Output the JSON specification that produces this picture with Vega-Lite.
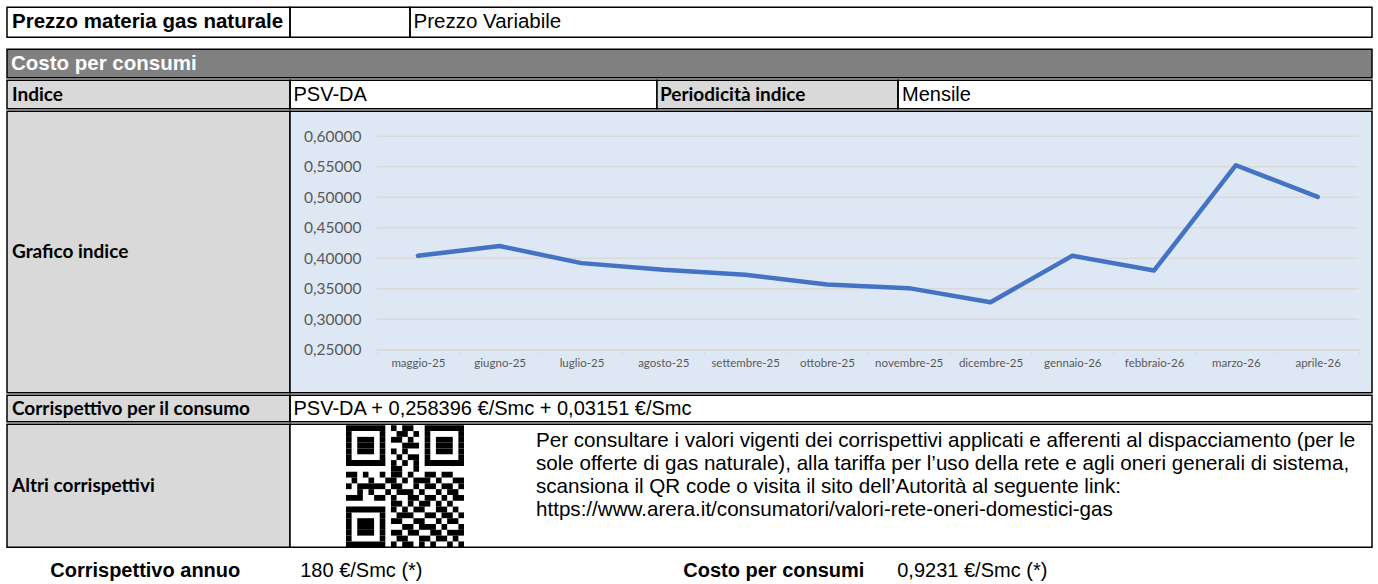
{
  "$schema": "https://vega.github.io/schema/vega-lite/v6.json",
  "background": "white",
  "padding": {"left": 6, "top": 6.25, "right": 0, "bottom": 0},
  "config": {
    "locale": {"number": {"decimal": ",", "thousands": ".", "grouping": [3], "currency": ["", " €"]}},
    "font": "Liberation Sans",
    "text": {"font": "Liberation Sans", "fontSize": 20, "color": "black"},
    "view": {"stroke": "black", "strokeWidth": 1.5}
  },
  "spacing": 0,
  "vconcat": [
    {
      "spacing": 0, "bounds": "flush",
      "hconcat": [
        {"width": 283, "height": 30, "view": {"stroke": "black", "strokeWidth": 1.5}, "data": {"values": [{"t": "Prezzo materia gas naturale"}]},
         "mark": {"type": "text", "align": "left", "baseline": "middle", "dx": 5, "fontWeight": "bold", "fontSize": 20.5},
         "encoding": {"text": {"field": "t"}, "x": {"datum": 0, "type": "quantitative", "scale": {"domain": [0, 1]}, "axis": null}}},
        {"width": 120, "height": 30, "view": {"stroke": "black", "strokeWidth": 1.5}, "data": {"values": []},
         "mark": {"type": "text"},
         "encoding": {"text": {"field": "t"}, "x": {"datum": 0, "type": "quantitative", "scale": {"domain": [0, 1]}, "axis": null}}},
        {"width": 962, "height": 30, "view": {"stroke": "black", "strokeWidth": 1.5}, "data": {"values": [{"t": "Prezzo Variabile"}]},
         "mark": {"type": "text", "align": "left", "baseline": "middle", "dx": 3.5, "fontSize": 20.5},
         "encoding": {"text": {"field": "t"}, "x": {"datum": 0, "type": "quantitative", "scale": {"domain": [0, 1]}, "axis": null}}}
      ]
    },
    {"width": 1365, "height": 9.5, "view": {"fill": "white", "stroke": null}, "data": {"values": []},
     "mark": {"type": "text"}, "encoding": {"text": {"field": "t"}}},
    {"width": 1365, "height": 28.5, "view": {"fill": "#808080", "stroke": "black", "strokeWidth": 1.5}, "data": {"values": [{"t": "Costo per consumi"}]},
     "mark": {"type": "text", "align": "left", "baseline": "middle", "dx": 4, "fontWeight": "bold", "fontSize": 20.5, "color": "white"},
     "encoding": {"text": {"field": "t"}, "x": {"datum": 0, "type": "quantitative", "scale": {"domain": [0, 1]}, "axis": null}}},
    {
      "spacing": 0, "bounds": "flush",
      "hconcat": [
        {"width": 283, "height": 28.5, "view": {"fill": "#d9d9d9", "stroke": "black", "strokeWidth": 1.5}, "data": {"values": [{"t": "Indice"}]},
         "mark": {"type": "text", "align": "left", "baseline": "middle", "dx": 5, "font": "Lato", "fontSize": 19, "fontWeight": "bold"},
         "encoding": {"text": {"field": "t"}, "x": {"datum": 0, "type": "quantitative", "scale": {"domain": [0, 1]}, "axis": null}}},
        {"width": 367, "height": 28.5, "view": {"stroke": "black", "strokeWidth": 1.5}, "data": {"values": [{"t": "PSV-DA"}]},
         "mark": {"type": "text", "align": "left", "baseline": "middle", "dx": 3.5},
         "encoding": {"text": {"field": "t"}, "x": {"datum": 0, "type": "quantitative", "scale": {"domain": [0, 1]}, "axis": null}}},
        {"width": 241, "height": 28.5, "view": {"fill": "#d9d9d9", "stroke": "black", "strokeWidth": 1.5}, "data": {"values": [{"t": "Periodicità indice"}]},
         "mark": {"type": "text", "align": "left", "baseline": "middle", "dx": 3, "font": "Lato", "fontSize": 19, "fontWeight": "bold"},
         "encoding": {"text": {"field": "t"}, "x": {"datum": 0, "type": "quantitative", "scale": {"domain": [0, 1]}, "axis": null}}},
        {"width": 474, "height": 28.5, "view": {"stroke": "black", "strokeWidth": 1.5}, "data": {"values": [{"t": "Mensile"}]},
         "mark": {"type": "text", "align": "left", "baseline": "middle", "dx": 4},
         "encoding": {"text": {"field": "t"}, "x": {"datum": 0, "type": "quantitative", "scale": {"domain": [0, 1]}, "axis": null}}}
      ]
    },
    {
      "spacing": 0, "bounds": "flush",
      "hconcat": [
        {"width": 283, "height": 281.5, "view": {"fill": "#d9d9d9", "stroke": "black", "strokeWidth": 1.5}, "data": {"values": [{"t": "Grafico indice"}]},
         "mark": {"type": "text", "align": "left", "baseline": "middle", "dx": 5, "font": "Lato", "fontSize": 19, "fontWeight": "bold"},
         "encoding": {"text": {"field": "t"}, "x": {"datum": 0, "type": "quantitative", "scale": {"domain": [0, 1]}, "axis": null}}},
        {
          "width": 1082, "height": 281.5,
          "view": {"fill": "#dee8f4", "stroke": "black", "strokeWidth": 1.5},
          "resolve": {"scale": {"x": "independent"}, "axis": {"x": "independent"}},
          "layer": [
            {
              "data": {"values": [{"g": 0.25}, {"g": 0.3}, {"g": 0.35}, {"g": 0.4}, {"g": 0.45}, {"g": 0.5}, {"g": 0.55}, {"g": 0.6}]},
              "mark": {"type": "rule", "color": "#d9d9d9", "strokeWidth": 1.3},
              "encoding": {
                "x": {"datum": 0, "type": "quantitative", "scale": {"domain": [0, 12], "range": [87, 1068.6], "nice": false, "zero": false}, "axis": null},
                "x2": {"datum": 12},
                "y": {"field": "g", "type": "quantitative",
                      "scale": {"domain": [0.25, 0.6], "range": [238.5, 25], "nice": false, "zero": false},
                      "axis": {"title": null, "values": [0.25, 0.3, 0.35, 0.4, 0.45, 0.5, 0.55, 0.6], "format": ".5f",
                               "offset": -87, "domain": false, "ticks": false, "tickSize": 0, "labelPadding": 16,
                               "labelFont": "Lato", "labelFontSize": 15.5, "labelColor": "#595959", "grid": false}}
              }
            },
            {
              "data": {"values": [
                {"mese": "maggio-25", "valore": 0.404},
                {"mese": "giugno-25", "valore": 0.420},
                {"mese": "luglio-25", "valore": 0.392},
                {"mese": "agosto-25", "valore": 0.381},
                {"mese": "settembre-25", "valore": 0.373},
                {"mese": "ottobre-25", "valore": 0.357},
                {"mese": "novembre-25", "valore": 0.351},
                {"mese": "dicembre-25", "valore": 0.328},
                {"mese": "gennaio-26", "valore": 0.404},
                {"mese": "febbraio-26", "valore": 0.380},
                {"mese": "marzo-26", "valore": 0.5525},
                {"mese": "aprile-26", "valore": 0.5005}
              ]},
              "mark": {"type": "line", "color": "#4472c4", "strokeWidth": 4.5, "strokeCap": "round", "strokeJoin": "round"},
              "encoding": {
                "x": {"field": "mese", "type": "ordinal", "sort": null, "bandPosition": 0.5,
                      "scale": {"type": "band", "range": [87, 1068.6], "paddingInner": 0, "paddingOuter": 0},
                      "axis": {"title": null, "orient": "bottom", "offset": -43, "domainColor": "#d9d9d9", "domainWidth": 1.3,
                               "ticks": true, "tickBand": "extent", "tickColor": "#d9d9d9", "tickSize": 4, "tickWidth": 1.3,
                               "labelAngle": 0, "labelFont": "Lato", "labelFontSize": 11.5, "labelColor": "#595959",
                               "labelPadding": 4, "labelOverlap": false, "grid": false}},
                "y": {"field": "valore", "type": "quantitative",
                      "scale": {"domain": [0.25, 0.6], "range": [238.5, 25], "nice": false, "zero": false},
                      "axis": {"title": null, "values": [0.25, 0.3, 0.35, 0.4, 0.45, 0.5, 0.55, 0.6], "format": ".5f",
                               "offset": -87, "domain": false, "ticks": false, "tickSize": 0, "labelPadding": 16,
                               "labelFont": "Lato", "labelFontSize": 15.5, "labelColor": "#595959", "grid": false}}
              }
            }
          ]
        }
      ]
    },
    {
      "spacing": 0, "bounds": "flush",
      "hconcat": [
        {"width": 283, "height": 26.5, "view": {"fill": "#d9d9d9", "stroke": "black", "strokeWidth": 1.5}, "data": {"values": [{"t": "Corrispettivo per il consumo"}]},
         "mark": {"type": "text", "align": "left", "baseline": "middle", "dx": 5, "font": "Lato", "fontSize": 19, "fontWeight": "bold"},
         "encoding": {"text": {"field": "t"}, "x": {"datum": 0, "type": "quantitative", "scale": {"domain": [0, 1]}, "axis": null}}},
        {"width": 1082, "height": 26.5, "view": {"stroke": "black", "strokeWidth": 1.5}, "data": {"values": [{"t": "PSV-DA + 0,258396 €/Smc + 0,03151 €/Smc"}]},
         "mark": {"type": "text", "align": "left", "baseline": "middle", "dx": 3.5},
         "encoding": {"text": {"field": "t"}, "x": {"datum": 0, "type": "quantitative", "scale": {"domain": [0, 1]}, "axis": null}}}
      ]
    },
    {
      "spacing": 0, "bounds": "flush",
      "hconcat": [
        {"width": 283, "height": 123, "view": {"fill": "#d9d9d9", "stroke": "black", "strokeWidth": 1.5}, "data": {"values": [{"t": "Altri corrispettivi"}]},
         "mark": {"type": "text", "align": "left", "baseline": "middle", "dx": 5, "font": "Lato", "fontSize": 19, "fontWeight": "bold"},
         "encoding": {"text": {"field": "t"}, "x": {"datum": 0, "type": "quantitative", "scale": {"domain": [0, 1]}, "axis": null}}},
        {
          "width": 1082, "height": 123,
          "view": {"fill": "white", "stroke": "black", "strokeWidth": 1.5},
          "layer": [
            {
              "data": {"values": [
                {"r": 0, "a": 0, "b": 7}, {"r": 0, "a": 8, "b": 9}, {"r": 0, "a": 10, "b": 12}, {"r": 0, "a": 14, "b": 21},
                {"r": 1, "a": 0, "b": 1}, {"r": 1, "a": 6, "b": 7}, {"r": 1, "a": 9, "b": 11}, {"r": 1, "a": 12, "b": 13}, {"r": 1, "a": 14, "b": 15}, {"r": 1, "a": 20, "b": 21},
                {"r": 2, "a": 0, "b": 1}, {"r": 2, "a": 2, "b": 5}, {"r": 2, "a": 6, "b": 7}, {"r": 2, "a": 8, "b": 10}, {"r": 2, "a": 11, "b": 12}, {"r": 2, "a": 14, "b": 15}, {"r": 2, "a": 16, "b": 19}, {"r": 2, "a": 20, "b": 21},
                {"r": 3, "a": 0, "b": 1}, {"r": 3, "a": 2, "b": 5}, {"r": 3, "a": 6, "b": 7}, {"r": 3, "a": 10, "b": 13}, {"r": 3, "a": 14, "b": 15}, {"r": 3, "a": 16, "b": 19}, {"r": 3, "a": 20, "b": 21},
                {"r": 4, "a": 0, "b": 1}, {"r": 4, "a": 2, "b": 5}, {"r": 4, "a": 6, "b": 7}, {"r": 4, "a": 8, "b": 9}, {"r": 4, "a": 10, "b": 11}, {"r": 4, "a": 14, "b": 15}, {"r": 4, "a": 16, "b": 19}, {"r": 4, "a": 20, "b": 21},
                {"r": 5, "a": 0, "b": 1}, {"r": 5, "a": 6, "b": 7}, {"r": 5, "a": 9, "b": 10}, {"r": 5, "a": 11, "b": 13}, {"r": 5, "a": 14, "b": 15}, {"r": 5, "a": 20, "b": 21},
                {"r": 6, "a": 0, "b": 7}, {"r": 6, "a": 8, "b": 9}, {"r": 6, "a": 10, "b": 11}, {"r": 6, "a": 12, "b": 13}, {"r": 6, "a": 14, "b": 21},
                {"r": 7, "a": 8, "b": 10}, {"r": 7, "a": 12, "b": 13},
                {"r": 8, "a": 0, "b": 2}, {"r": 8, "a": 3, "b": 4}, {"r": 8, "a": 6, "b": 7}, {"r": 8, "a": 8, "b": 10}, {"r": 8, "a": 11, "b": 12}, {"r": 8, "a": 14, "b": 16}, {"r": 8, "a": 17, "b": 19},
                {"r": 9, "a": 1, "b": 2}, {"r": 9, "a": 4, "b": 5}, {"r": 9, "a": 7, "b": 9}, {"r": 9, "a": 10, "b": 11}, {"r": 9, "a": 12, "b": 15}, {"r": 9, "a": 16, "b": 17}, {"r": 9, "a": 19, "b": 21},
                {"r": 10, "a": 0, "b": 1}, {"r": 10, "a": 2, "b": 7}, {"r": 10, "a": 8, "b": 10}, {"r": 10, "a": 12, "b": 13}, {"r": 10, "a": 14, "b": 16}, {"r": 10, "a": 17, "b": 19}, {"r": 10, "a": 20, "b": 21},
                {"r": 11, "a": 2, "b": 3}, {"r": 11, "a": 4, "b": 5}, {"r": 11, "a": 7, "b": 8}, {"r": 11, "a": 9, "b": 12}, {"r": 11, "a": 13, "b": 14}, {"r": 11, "a": 16, "b": 17}, {"r": 11, "a": 18, "b": 20},
                {"r": 12, "a": 0, "b": 3}, {"r": 12, "a": 5, "b": 7}, {"r": 12, "a": 8, "b": 9}, {"r": 12, "a": 11, "b": 13}, {"r": 12, "a": 14, "b": 16}, {"r": 12, "a": 17, "b": 18}, {"r": 12, "a": 19, "b": 21},
                {"r": 13, "a": 8, "b": 10}, {"r": 13, "a": 11, "b": 12}, {"r": 13, "a": 13, "b": 15}, {"r": 13, "a": 16, "b": 17}, {"r": 13, "a": 18, "b": 19},
                {"r": 14, "a": 0, "b": 7}, {"r": 14, "a": 8, "b": 9}, {"r": 14, "a": 10, "b": 11}, {"r": 14, "a": 12, "b": 14}, {"r": 14, "a": 16, "b": 18}, {"r": 14, "a": 19, "b": 20},
                {"r": 15, "a": 0, "b": 1}, {"r": 15, "a": 6, "b": 7}, {"r": 15, "a": 9, "b": 12}, {"r": 15, "a": 14, "b": 16}, {"r": 15, "a": 17, "b": 19}, {"r": 15, "a": 20, "b": 21},
                {"r": 16, "a": 0, "b": 1}, {"r": 16, "a": 2, "b": 5}, {"r": 16, "a": 6, "b": 7}, {"r": 16, "a": 8, "b": 10}, {"r": 16, "a": 12, "b": 14}, {"r": 16, "a": 16, "b": 17}, {"r": 16, "a": 18, "b": 20},
                {"r": 17, "a": 0, "b": 1}, {"r": 17, "a": 2, "b": 5}, {"r": 17, "a": 6, "b": 7}, {"r": 17, "a": 10, "b": 12}, {"r": 17, "a": 13, "b": 16}, {"r": 17, "a": 17, "b": 18}, {"r": 17, "a": 20, "b": 21},
                {"r": 18, "a": 0, "b": 1}, {"r": 18, "a": 2, "b": 5}, {"r": 18, "a": 6, "b": 7}, {"r": 18, "a": 8, "b": 10}, {"r": 18, "a": 11, "b": 13}, {"r": 18, "a": 15, "b": 17}, {"r": 18, "a": 18, "b": 21},
                {"r": 19, "a": 0, "b": 1}, {"r": 19, "a": 6, "b": 7}, {"r": 19, "a": 9, "b": 11}, {"r": 19, "a": 13, "b": 15}, {"r": 19, "a": 16, "b": 18}, {"r": 19, "a": 19, "b": 20},
                {"r": 20, "a": 0, "b": 7}, {"r": 20, "a": 8, "b": 9}, {"r": 20, "a": 10, "b": 12}, {"r": 20, "a": 13, "b": 14}, {"r": 20, "a": 15, "b": 16}, {"r": 20, "a": 18, "b": 19}, {"r": 20, "a": 20, "b": 21}
              ]},
              "mark": {"type": "rect", "color": "black"},
              "encoding": {
                "x": {"field": "a", "type": "quantitative", "scale": {"domain": [0, 21], "range": [56, 174], "nice": false, "zero": false}, "axis": null},
                "x2": {"field": "b"},
                "y": {"field": "r", "type": "ordinal", "scale": {"domain": [0,1,2,3,4,5,6,7,8,9,10,11,12,13,14,15,16,17,18,19,20], "range": [1, 123], "paddingInner": 0, "paddingOuter": 0}, "axis": null}
              }
            },
            {
              "data": {"values": [{"t": [
                "Per consultare i valori vigenti dei corrispettivi applicati e afferenti al dispacciamento (per le",
                "sole offerte di gas naturale), alla tariffa per l’uso della rete e agli oneri generali di sistema,",
                "scansiona il QR code o visita il sito dell’Autorità al seguente link:",
                "https://www.arera.it/consumatori/valori-rete-oneri-domestici-gas"
              ]}]},
              "mark": {"type": "text", "align": "left", "baseline": "top", "dx": -295, "dy": -54.5, "fontSize": 20.6, "lineHeight": 23},
              "encoding": {"text": {"field": "t"}}
            }
          ]
        }
      ]
    },
    {
      "width": 1365, "height": 44.5,
      "view": {"fill": "white", "stroke": null},
      "layer": [
        {"data": {"values": [{"t": "Corrispettivo annuo"}]},
         "mark": {"type": "text", "align": "left", "baseline": "middle", "dx": -639.25, "fontWeight": "bold", "fontSize": 20},
         "encoding": {"text": {"field": "t"}}},
        {"data": {"values": [{"t": "180  €/Smc (*)"}]},
         "mark": {"type": "text", "align": "left", "baseline": "middle", "dx": -389.25, "fontSize": 20},
         "encoding": {"text": {"field": "t"}}},
        {"data": {"values": [{"t": "Costo per consumi"}]},
         "mark": {"type": "text", "align": "left", "baseline": "middle", "dx": -6.25, "fontWeight": "bold", "fontSize": 20},
         "encoding": {"text": {"field": "t"}}},
        {"data": {"values": [{"t": "0,9231  €/Smc (*)"}]},
         "mark": {"type": "text", "align": "left", "baseline": "middle", "dx": 207.75, "fontSize": 20},
         "encoding": {"text": {"field": "t"}}}
      ]
    }
  ]
}
